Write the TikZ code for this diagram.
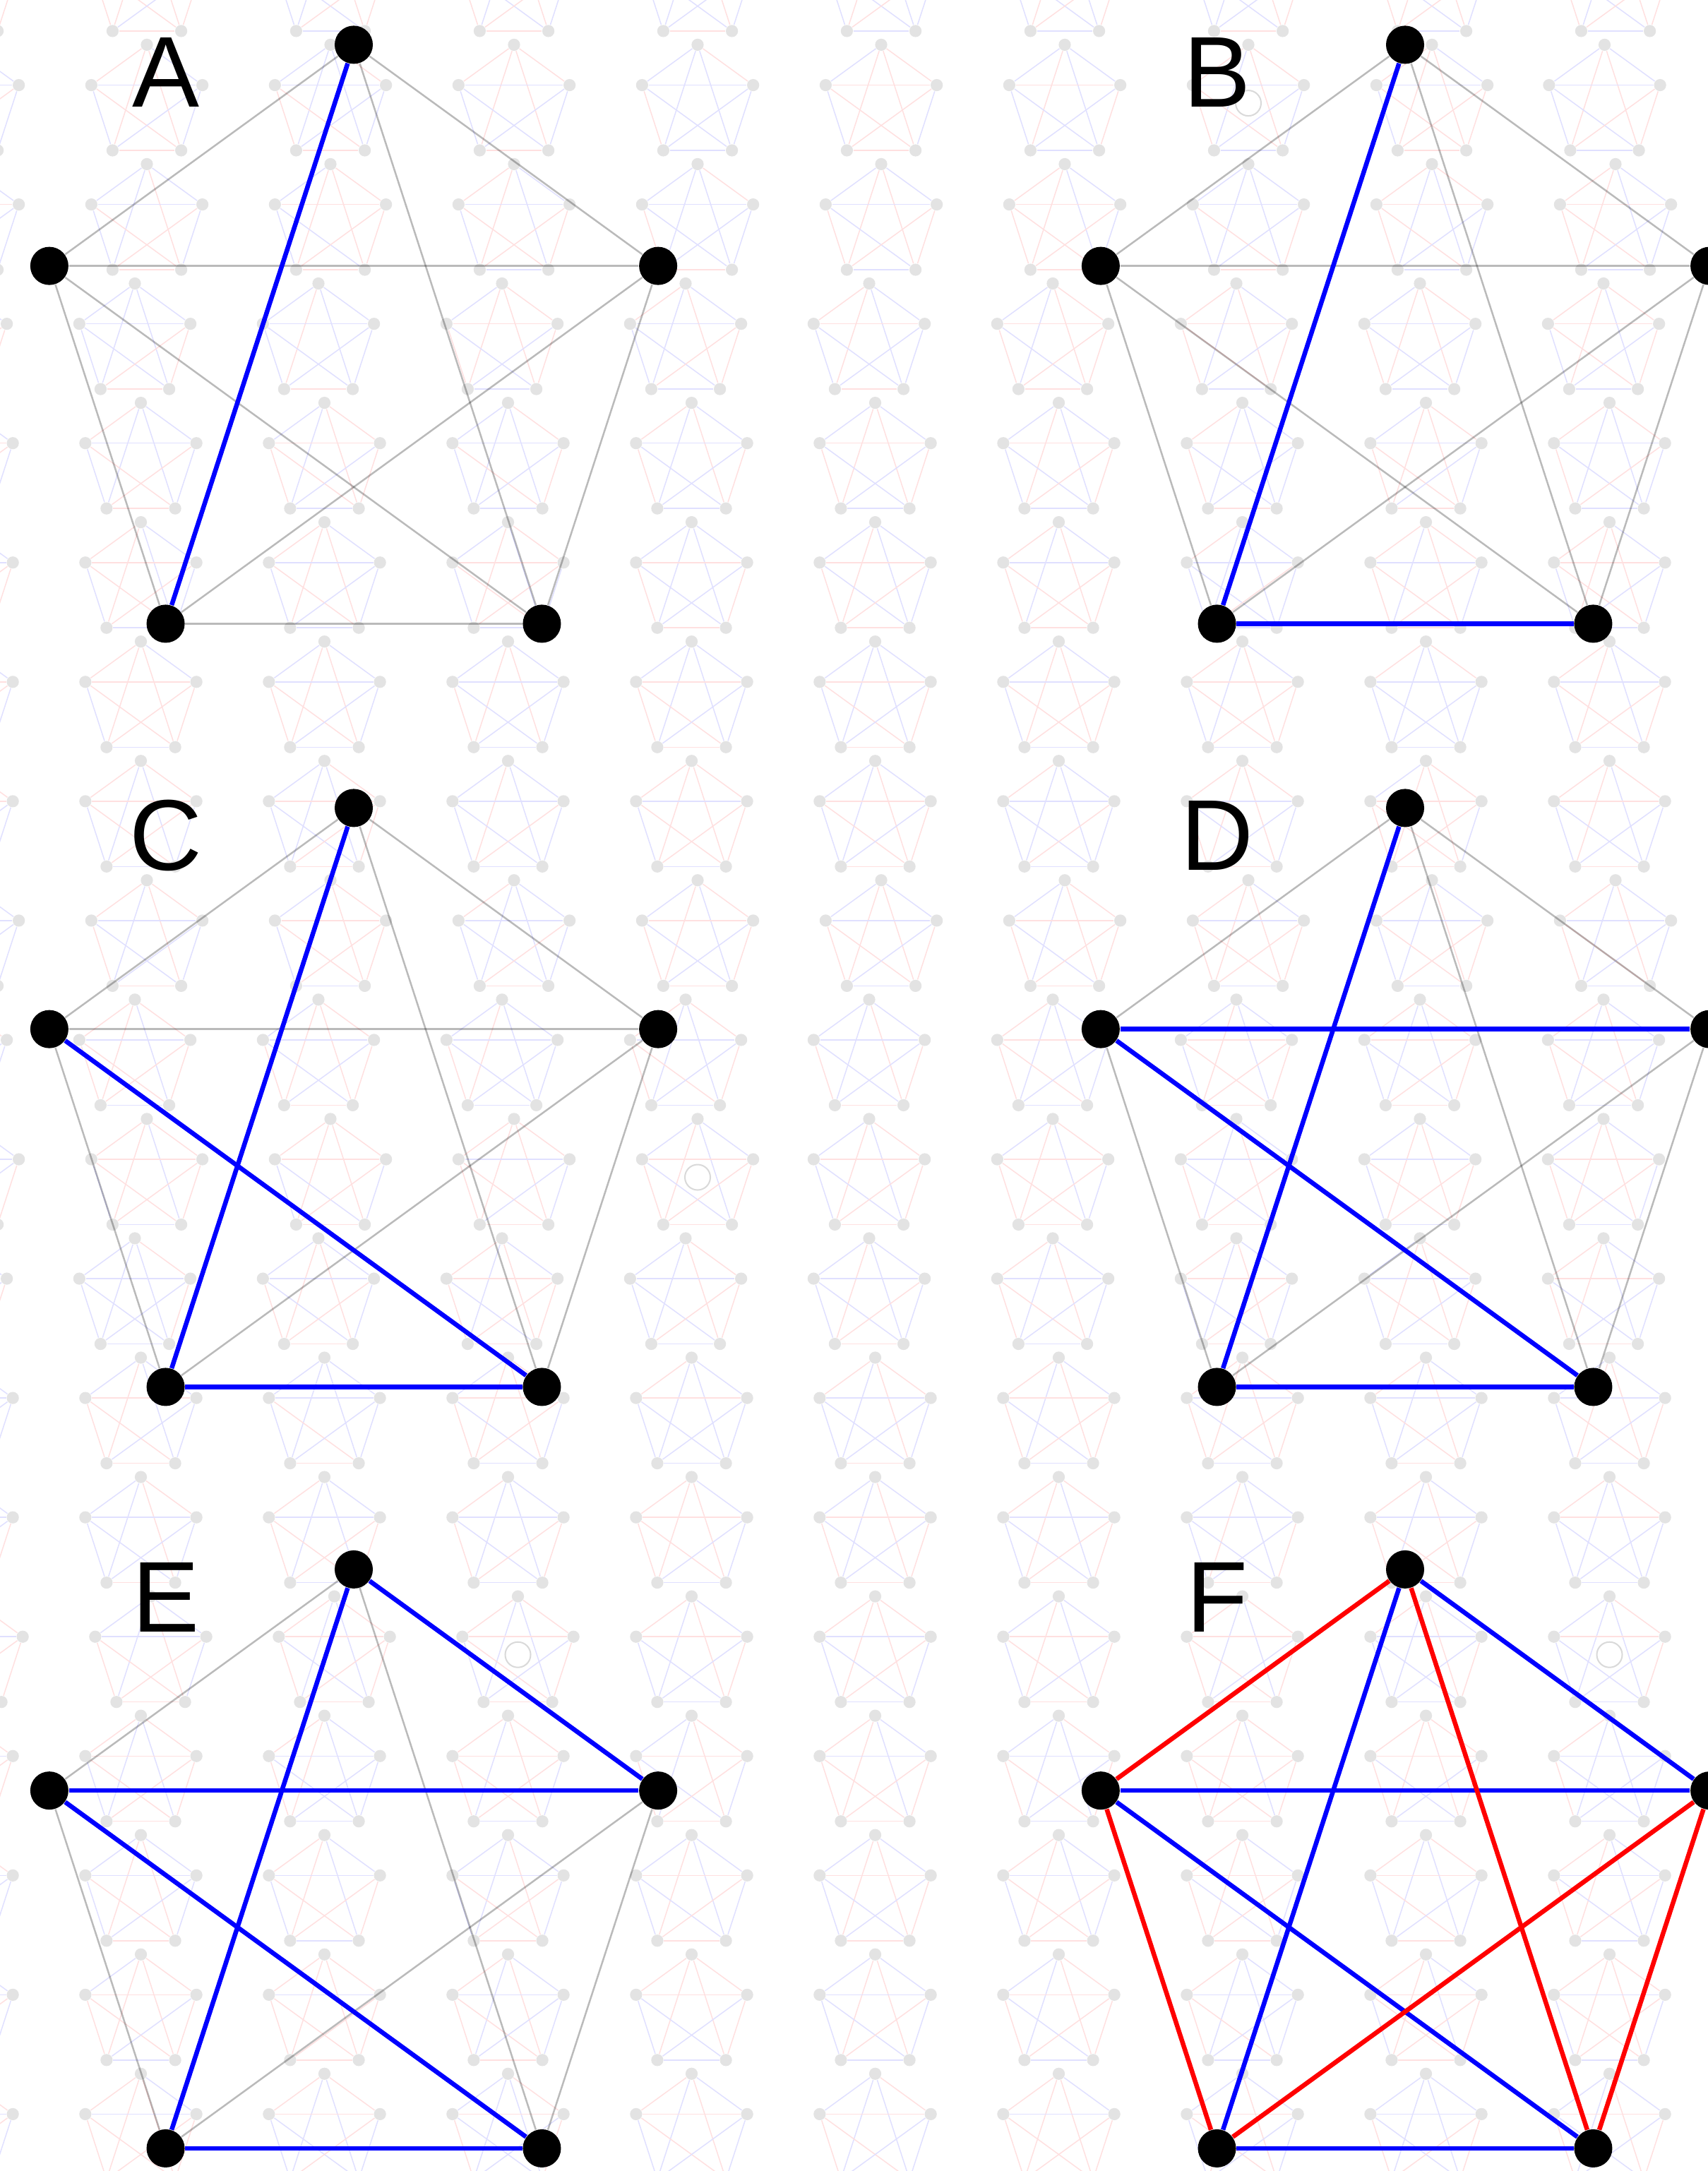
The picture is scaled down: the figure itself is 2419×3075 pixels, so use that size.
\documentclass[tikz,border=0pt]{standalone}
\usepackage{fontspec}
\setmainfont{Liberation Sans}
\tikzset{
  tdot/.style={circle, fill=black!11, inner sep=0pt, minimum size=0.172cm},
  tblue/.style={draw=blue!12, line width=0.015cm},
  tred/.style={draw=red!12, line width=0.015cm},
  ring/.style={circle, draw=black!15, line width=0.02cm, inner sep=0pt, minimum size=0.36cm},
  vdot/.style={circle, fill=black, inner sep=0pt, minimum size=0.54cm},
  kedge/.style={draw=black, draw opacity=0.27, line width=0.025cm},
  bedge/.style={draw=blue, line width=0.065cm},
  redge/.style={draw=red, line width=0.065cm},
  lbl/.style={font=\fontsize{40.5}{48}\selectfont, anchor=base, inner sep=0pt}
}

\begin{document}
\begin{tikzpicture}[x=0.01cm, y=0.01cm]
\useasboundingbox (0,0) rectangle (2419,-3075);
\clip (0,0) rectangle (2419,-3075);
\fill[white] (0,0) rectangle (2419,-3075);
\pgfmathsetseed{7}

% faint K5 wallpaper
\foreach \r in {-1,...,17}{
  \foreach \c in {-1,...,8}{
    \pgfmathsetmacro\sh{(\r<=1)*8.5 - (\r==2)*8.5 + (\r==7)*8.5 - (\r==8)*8.5
      + (\r==9)*((\c<=3)*17-8.5) - (\r==10)*8.5 + (\r==13)*(\c<=2)*14 - (\r==0)*(\c==8)*15.5}
    \begin{scope}[shift={(199.5+260*\c+\sh, -146.1-169.05*\r)}]
      \foreach \k in {1,...,5}{\node[tdot] (t\k) at (18+72*\k:82.7) {};}
      \foreach \i/\j in {1/2,1/3,1/4,1/5,2/3,2/4,2/5,3/4,3/5,4/5}{
        \pgfmathrandominteger\hue{0}{1}
        \ifnum\hue=0 \draw[tred] (t\i) -- (t\j); \else \draw[tblue] (t\i) -- (t\j); \fi
      }
    \end{scope}
  }
}
\node[ring] (ringB) at (1768,-146.1) {};
\node[ring] (ringC) at (988,-1667.5) {};
\node[ring] (ringE) at (733.5,-2343.7) {};
\node[ring] (ringF) at (2279.5,-2343.7) {};

% the six panels
\foreach \p/\ox/\oy in {A/0/0, B/1489/0, C/0/1081, D/1489/1081, E/0/2159.5, F/1489/2159.5}{
  \begin{scope}[shift={(501+\ox, -516.7-\oy)}]
    \foreach \k in {1,...,5}{\node[vdot] (\p\k) at (18+72*\k:453.3) {};}
    \foreach \i/\j in {1/2,1/3,1/4,1/5,2/3,2/4,2/5,3/4,3/5,4/5}{\draw[kedge] (\p\i) -- (\p\j);}
    \node[lbl] (lab\p) at (-266,365.2) {\p};
  \end{scope}
}

% blue edges, one more per panel
\foreach \p/\n in {A/1, B/2, C/3, D/4, E/5, F/5}{
  \foreach \i/\j [count=\e] in {1/3, 3/4, 2/4, 2/5, 1/5}{
    \ifnum\e>\n\relax\else\draw[bedge] (\p\i) -- (\p\j);\fi
  }
}
\foreach \i/\j in {1/2, 2/3, 1/4, 3/5, 4/5}{\draw[redge] (F\i) -- (F\j);}
\end{tikzpicture}
\end{document}
